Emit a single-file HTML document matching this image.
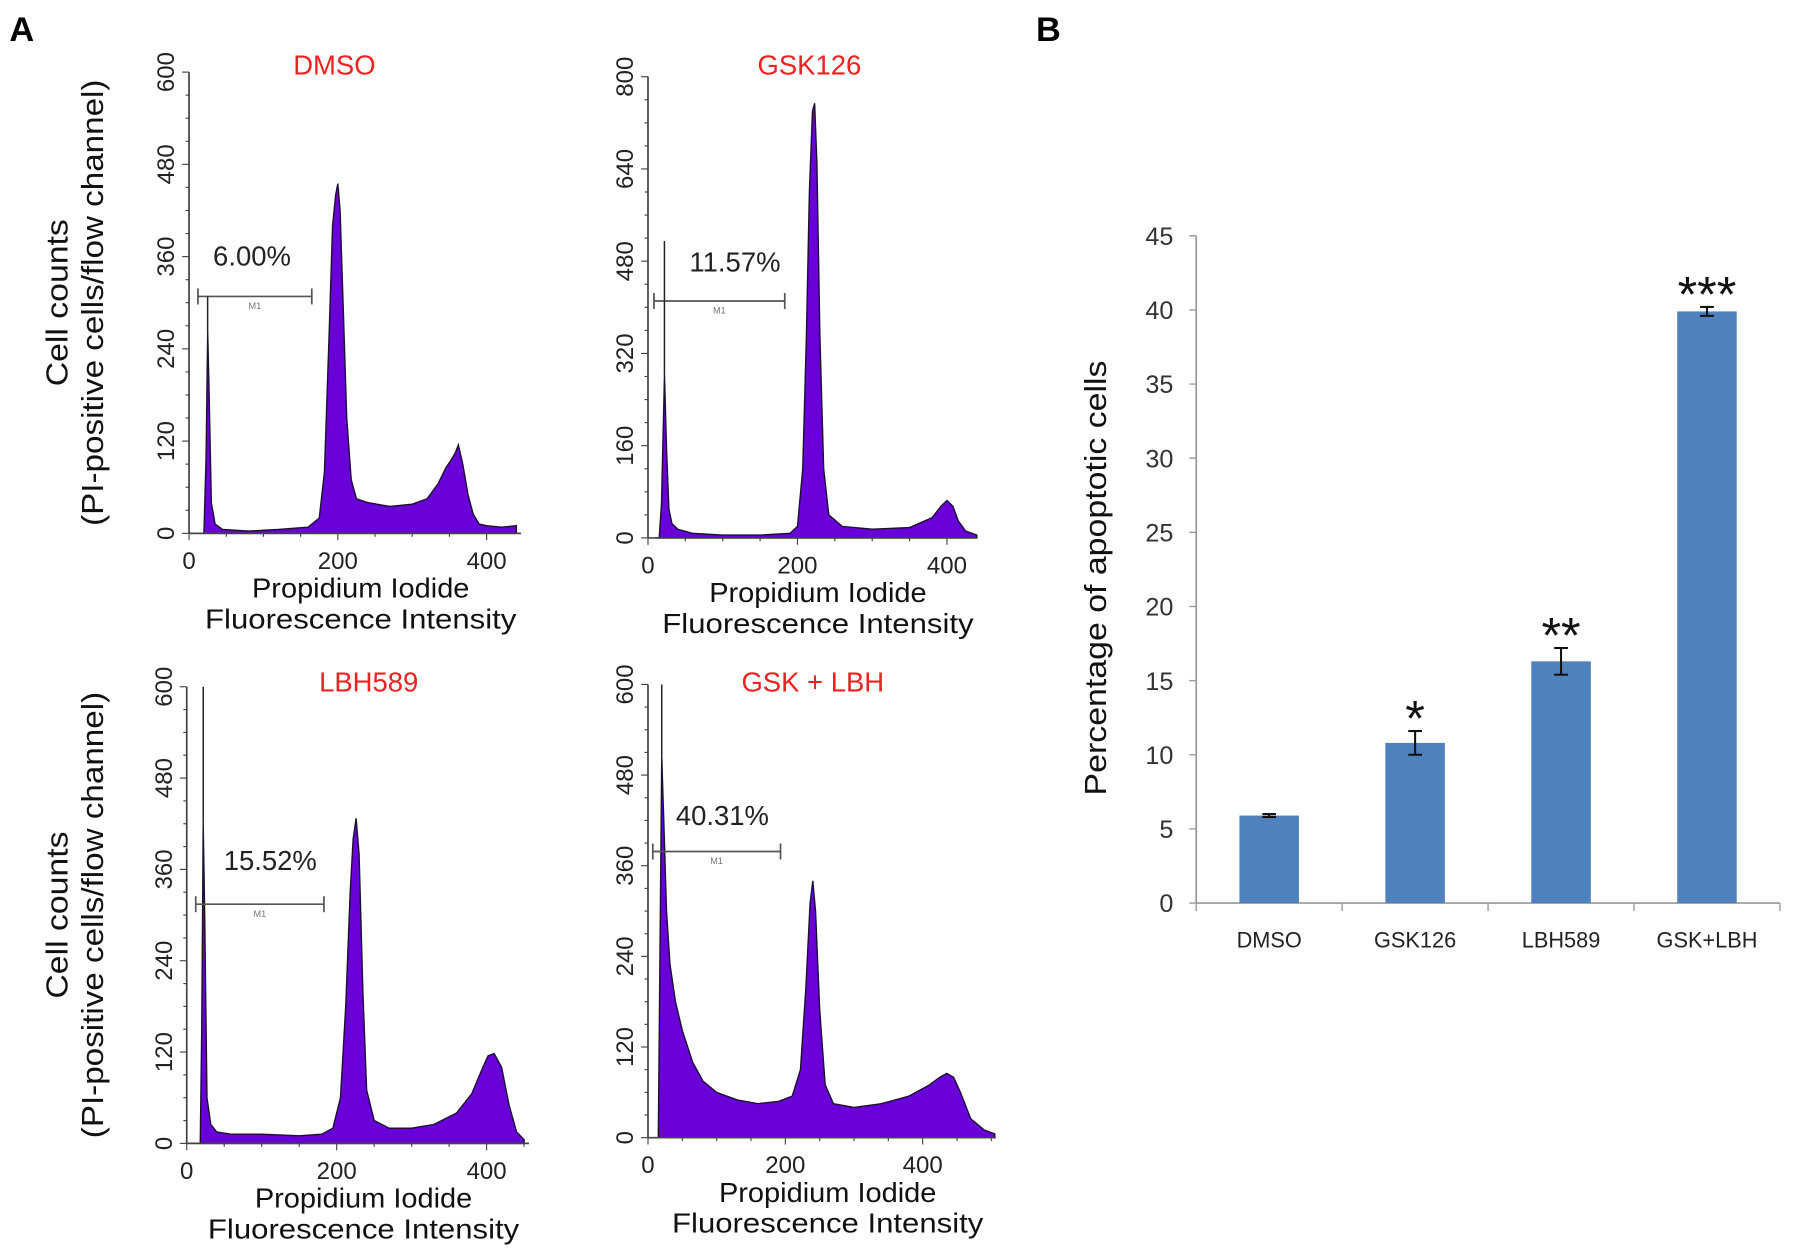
<!DOCTYPE html>
<html><head><meta charset="utf-8">
<style>
html,body{margin:0;padding:0;background:#fff;}
svg{display:block;font-family:"Liberation Sans",Arial,sans-serif;}
</style></head>
<body>
<svg id="fig" width="1795" height="1259" viewBox="0 0 1568 1100" xmlns="http://www.w3.org/2000/svg">
<text x="8" y="36" font-size="30" font-weight="bold">A</text>
<text x="905" y="36" font-size="30" font-weight="bold">B</text>
<g id="hists"></g>
<g id="bars"></g>
</svg>
<script>
// ---------- Histogram data (channel, counts) ----------
const dmsoCh  = [15,20,23,25,27,30,35,45,80,120,160,175,182,188,193,197,200,203,207,212,218,225,240,270,300,320,335,345,352,358,362,368,375,382,390,400,420,440];
const dmsoCnt = [0,0,100,262,180,40,12,5,3,5,8,20,80,250,400,440,455,420,300,150,70,45,40,35,38,45,65,85,95,105,115,90,50,25,12,10,8,10];
const gskCh   = [10,15,18,22,25,28,32,40,60,100,150,190,200,207,212,216,220,223,226,230,235,242,260,300,350,380,392,400,408,415,425,440];
const gskCnt  = [0,0,60,282,150,50,25,15,8,5,5,8,20,120,350,600,740,754,650,350,120,40,20,15,18,35,55,65,55,30,12,5];
const lbhCh   = [15,18,20,22,24,27,32,40,60,100,150,180,195,205,212,218,222,226,230,235,240,250,270,300,330,360,380,395,402,410,420,430,440,450];
const lbhCnt  = [0,0,150,420,300,60,25,15,12,12,10,12,20,60,180,330,400,427,380,200,70,30,20,20,25,40,65,100,115,118,100,50,15,5];
const comboCh = [10,15,18,20,23,27,32,40,50,65,80,100,130,160,190,210,222,230,236,240,244,250,258,270,300,340,380,410,425,435,445,455,470,490,505];
const comboCnt= [0,0,300,505,420,300,230,180,142,100,75,60,50,45,48,55,90,200,310,340,300,170,70,45,40,45,55,70,80,85,80,60,25,10,5];
const yTicks600 = [0,120,240,360,480,600];
const yTicks800 = [0,160,320,480,640,800];
const xTicks = [0,200,400];
const gatePct = ["6.00%","11.57%","15.52%","40.31%"];

// ---------- Bar chart data ----------
const categories = ["DMSO","GSK126","LBH589","GSK+LBH"];
const values = [5.9,10.8,16.3,39.9];
const errors = [0.1,0.8,0.9,0.3];
const stars = ["","*","**","***"];
const barTicks = [0,5,10,15,20,25,30,35,40,45];

const NS="http://www.w3.org/2000/svg";
function mk(tag,attrs,parent){const e=document.createElementNS(NS,tag);for(const k in attrs)e.setAttribute(k,attrs[k]);parent.appendChild(e);return e;}

const panels=[
 {name:"dmso",title:"DMSO",ch:dmsoCh,cnt:dmsoCnt,ticks:yTicks600,ymax:600,x0:165,y0:466,ytop:63,xs:0.65,xend:455,tx:292,ty:65,gate:[12,165],gy:259,pct:0,px:220,py:232,ly:[50,80]},
 {name:"gsk126",title:"GSK126",ch:gskCh,cnt:gskCnt,ticks:yTicks800,ymax:800,x0:566,y0:470,ytop:67,xs:0.653,xend:853,tx:707,ty:65,gate:[8,183],gy:263,pct:1,px:642,py:237},
 {name:"lbh589",title:"LBH589",ch:lbhCh,cnt:lbhCnt,ticks:yTicks600,ymax:600,x0:163,y0:999,ytop:600,xs:0.655,xend:462,tx:322,ty:604,gate:[12,183],gy:790,pct:2,px:236,py:760,ly:[50,80]},
 {name:"gsk-lbh",title:"GSK + LBH",ch:comboCh,cnt:comboCnt,ticks:yTicks600,ymax:600,x0:566,y0:994,ytop:598,xs:0.6,xend:870,tx:710,ty:604,gate:[7,193],gy:744,pct:3,px:631,py:721}
];
const H=document.getElementById('hists');
panels.forEach((p,pi)=>{
  const g=mk('g',{},H);
  
  
  const sx=v=>p.x0+v*p.xs;
  const sy=v=>p.y0-(v/p.ymax)*(p.y0-p.ytop);
  let d='M'+sx(p.ch[0])+','+p.y0;
  p.ch.forEach((c,i)=>{d+=' L'+sx(c).toFixed(1)+','+sy(p.cnt[i]).toFixed(1);});
  d+=' L'+sx(p.ch[p.ch.length-1])+','+p.y0+' Z';
  const a=mk('path',{d:d,fill:'#6a00d8',stroke:'#1a1030','stroke-width':1.2},g);
  
  
  mk('line',{x1:p.x0,y1:p.ytop,x2:p.x0,y2:p.y0,stroke:'#444','stroke-width':1.5},g);
  mk('line',{x1:p.x0,y1:p.y0,x2:p.xend,y2:p.y0,stroke:'#444','stroke-width':1.5},g);
  for(let k=0;k<=20;k++){const v=p.ymax*k/20;const len=(k%4===0)?6:3;
    mk('line',{x1:p.x0-len,y1:sy(v),x2:p.x0,y2:sy(v),stroke:'#444','stroke-width':1},g);}
  p.ticks.forEach(v=>{
    const t=mk('text',{x:0,y:0,'font-size':21,fill:'#222','text-anchor':'middle',transform:'translate('+(p.x0-13)+','+sy(v)+') rotate(-90)'},g);
    t.textContent=v;
    
    
  });
  for(let v=0;v<=p.ymax && sx(v)<=p.xend;v+=50){mk('line',{x1:sx(v),y1:p.y0,x2:sx(v),y2:p.y0+(v%200===0?6:3),stroke:'#444','stroke-width':1},g);}
  xTicks.forEach(v=>{const t=mk('text',{x:sx(v),y:p.y0+31,'font-size':21,fill:'#222','text-anchor':'middle'},g);t.textContent=v;
    
    });
  const mx=(p.x0+p.xend)/2+5;
  const l1=mk('text',{x:mx,y:p.y0+56,'font-size':24,fill:'#111','text-anchor':'middle',textLength:190,lengthAdjust:'spacingAndGlyphs'},g);l1.textContent='Propidium Iodide';
  
  
  const l2=mk('text',{x:mx,y:p.y0+83,'font-size':24,fill:'#111','text-anchor':'middle',textLength:272,lengthAdjust:'spacingAndGlyphs'},g);l2.textContent='Fluorescence Intensity';
  
  
  const tt=mk('text',{x:p.tx,y:p.ty,'font-size':24,fill:'#ee2222','text-anchor':'middle'},g);tt.textContent=p.title;
  
  
  const gx1=sx(p.gate[0]),gx2=sx(p.gate[1]);
  mk('line',{x1:gx1,y1:p.gy,x2:gx2,y2:p.gy,stroke:'#555','stroke-width':1.5},g);
  mk('line',{x1:gx1,y1:p.gy-7,x2:gx1,y2:p.gy+7,stroke:'#555','stroke-width':1.5},g);
  mk('line',{x1:gx2,y1:p.gy-7,x2:gx2,y2:p.gy+7,stroke:'#555','stroke-width':1.5},g);
  const m1=mk('text',{x:(gx1+gx2)/2,y:p.gy+11,'font-size':8,fill:'#777','text-anchor':'middle'},g);m1.textContent='M1';
  let imax=0;p.cnt.forEach((c,i)=>{if(c>p.cnt[imax]&&p.ch[i]<40)imax=i;});
  const topY = pi>=2 ? p.ytop : (pi===1? sy(515): p.gy);
  mk('line',{x1:sx(p.ch[imax]),y1:topY,x2:sx(p.ch[imax]),y2:sy(p.cnt[imax]),stroke:'#222','stroke-width':1.3},g);
  const pt=mk('text',{x:p.px,y:p.py,'font-size':24,fill:'#222','text-anchor':'middle'},g);pt.textContent=gatePct[p.pct];
  
  
  if(p.ly){
    const cy=(p.ytop+p.y0)/2;
    const y1=mk('text',{x:0,y:0,'font-size':27,fill:'#111','text-anchor':'middle',textLength:146,lengthAdjust:'spacingAndGlyphs',transform:'translate('+(p.ly[0]+9)+','+cy+') rotate(-90)'},g);y1.textContent='Cell counts';
    
    
    const y2=mk('text',{x:0,y:0,'font-size':27,fill:'#111','text-anchor':'middle',textLength:390,lengthAdjust:'spacingAndGlyphs',transform:'translate('+(p.ly[1]+10)+','+cy+') rotate(-90)'},g);y2.textContent='(PI-positive cells/flow channel)';
    
    
  }
});

// ---------- Bar chart ----------
const B=document.getElementById('bars');
const bx0=1045,bx1=1555,by0=789,bytop=206,ymaxB=45;
const by=v=>by0-(v/ymaxB)*(by0-bytop);
const catW=(bx1-bx0)/categories.length;
const bxc=i=>bx0+catW*(i+0.5);
mk('line',{x1:bx0,y1:bytop,x2:bx0,y2:by0,stroke:'#999','stroke-width':1.5},B);
mk('line',{x1:bx0,y1:by0,x2:bx1,y2:by0,stroke:'#999','stroke-width':1.5},B);
barTicks.forEach(v=>{
  mk('line',{x1:bx0-6,y1:by(v),x2:bx0,y2:by(v),stroke:'#999','stroke-width':1.2},B);
  const t=mk('text',{x:bx0-20,y:by(v)+8,'font-size':22,fill:'#333','text-anchor':'end'},B);t.textContent=v;
  
  
});
for(let i=0;i<=categories.length;i++){mk('line',{x1:bx0+catW*i,y1:by0,x2:bx0+catW*i,y2:by0+7,stroke:'#999','stroke-width':1.2},B);}
categories.forEach((c,i)=>{
  const cx=bxc(i);
  const r=mk('rect',{x:cx-26,y:by(values[i]),width:52,height:by0-by(values[i]),fill:'#4f81bd'},B);
  
  
  const hi=by(values[i]+errors[i]),lo=by(values[i]-errors[i]);
  mk('line',{x1:cx,y1:hi,x2:cx,y2:lo,stroke:'#111','stroke-width':1.8},B);
  mk('line',{x1:cx-6,y1:hi,x2:cx+6,y2:hi,stroke:'#111','stroke-width':1.8},B);
  mk('line',{x1:cx-6,y1:lo,x2:cx+6,y2:lo,stroke:'#111','stroke-width':1.8},B);
  if(stars[i]){const s=mk('text',{x:cx,y:hi+4,'font-size':44,fill:'#111','text-anchor':'middle'},B);s.textContent=stars[i];
    
    }
  const l=mk('text',{x:cx,y:by0+39,'font-size':19,fill:'#222','text-anchor':'middle'},B);l.textContent=c;
  
  
});
const yt=mk('text',{x:0,y:0,'font-size':27,fill:'#111','text-anchor':'middle',textLength:380,lengthAdjust:'spacingAndGlyphs',transform:'translate(966,505) rotate(-90)'},B);
yt.textContent='Percentage of apoptotic cells';


</script>
</body></html>
